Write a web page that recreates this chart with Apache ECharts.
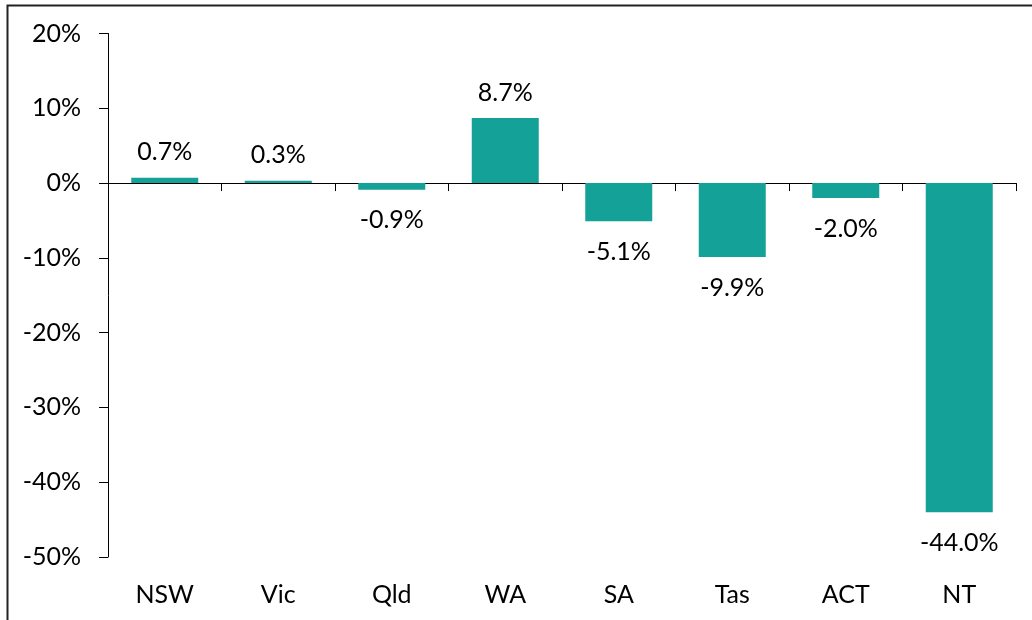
<!DOCTYPE html>
<html>
<head>
<meta charset="utf-8">
<script src="https://cdn.jsdelivr.net/npm/echarts@6/dist/echarts.min.js"></script>
<style>
html,body{margin:0;padding:0;background:#fff;}
#chart{width:1032px;height:620px;}
</style>
</head>
<body>
<div id="chart"></div>
<script>
const categories = ['NSW', 'Vic', 'Qld', 'WA', 'SA', 'Tas', 'ACT', 'NT'];
const values = [0.7, 0.3, -0.9, 8.7, -5.1, -9.9, -2.0, -44.0];
const yTicks = { min: -50, max: 20, interval: 10 };

const FONT = 'Lato';
const FS = 25;
const chart = echarts.init(document.getElementById('chart'), null, { renderer: 'canvas' });

const barData = values.map(v => ({
  value: v,
  label: v >= 0 ? { position: 'top', distance: 13 } : { position: 'bottom', distance: 18 }
}));

chart.setOption({
  animation: false,
  textStyle: { fontFamily: FONT },
  grid: { left: 108, right: 16, top: 33.5, bottom: 63, containLabel: false },
  xAxis: [
    {
      type: 'category',
      data: categories,
      position: 'bottom',
      axisLine: { show: false, onZero: false },
      axisTick: { show: false },
      axisLabel: { color: '#000', fontSize: FS, fontFamily: FONT, margin: 25 }
    },
    {
      type: 'category',
      data: categories,
      position: 'bottom',
      axisLine: { show: true, onZero: true, lineStyle: { color: '#000', width: 1 } },
      axisTick: { show: true, length: 8, lineStyle: { color: '#000', width: 1 } },
      axisLabel: { show: false }
    }
  ],
  yAxis: {
    type: 'value',
    min: yTicks.min,
    max: yTicks.max,
    interval: yTicks.interval,
    axisLine: { show: true, lineStyle: { color: '#000', width: 1 } },
    axisTick: { show: true, length: 9, lineStyle: { color: '#000', width: 1 } },
    splitLine: { show: false },
    axisLabel: { color: '#000', fontSize: FS, fontFamily: FONT, margin: 27, formatter: v => v + '%' }
  },
  graphic: [
    {
      type: 'polyline',
      shape: { points: [[7.5, 700], [7.5, 5.5], [1100, 5.5]] },
      style: { stroke: '#222', lineWidth: 2, fill: null },
      silent: true
    }
  ],
  series: [
    {
      type: 'bar',
      xAxisIndex: 0,
      data: barData,
      barWidth: 67,
      itemStyle: { color: '#14a197' },
      label: {
        show: true,
        color: '#000',
        fontSize: FS,
        fontFamily: FONT,
        formatter: p => p.value.toFixed(1) + '%'
      }
    }
  ]
});
</script>
</body>
</html>
